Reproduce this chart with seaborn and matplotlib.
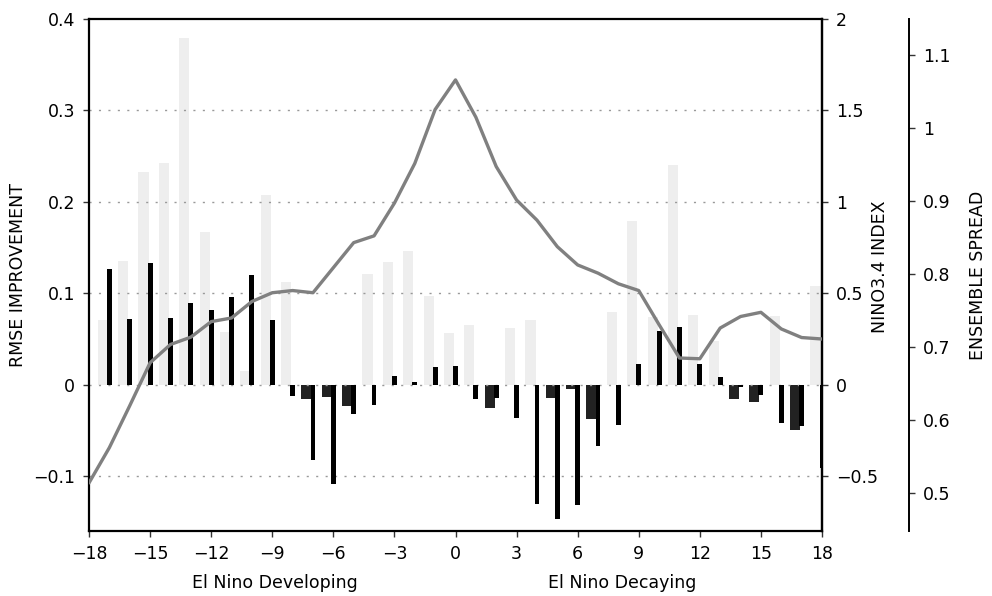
import numpy as np
import pandas as pd
import matplotlib
matplotlib.use("Agg")
import matplotlib.pyplot as plt
import seaborn as sns

# ---------------- data ----------------
lags = list(range(-17, 19))
rmse_gray = [0.071, 0.135, 0.233, 0.242, 0.379, 0.167, 0.058, 0.015, 0.207, 0.112,
             -0.016, -0.013, -0.023, 0.121, 0.134, 0.146, 0.097, 0.057, 0.065, -0.026,
             0.062, 0.071, -0.015, -0.005, -0.038, 0.080, 0.179, 0.074, 0.240, 0.076,
             0.048, -0.016, -0.019, 0.075, -0.050, 0.108]
rmse_black = [0.127, 0.072, 0.133, 0.073, 0.089, 0.082, 0.096, 0.120, 0.071, -0.012,
              -0.082, -0.109, -0.032, -0.022, 0.010, 0.003, 0.019, 0.021, -0.016, -0.014,
              -0.036, -0.130, -0.147, -0.132, -0.067, -0.044, 0.023, 0.059, 0.063, 0.023,
              0.008, -0.002, -0.011, -0.042, -0.045, -0.091]
nino_lags = list(range(-18, 19))
nino34 = [-0.537, -0.344, -0.115, 0.120, 0.220, 0.260, 0.345, 0.365, 0.455, 0.503,
          0.515, 0.503, 0.640, 0.777, 0.814, 0.993, 1.210, 1.505, 1.667, 1.463,
          1.193, 1.010, 0.900, 0.755, 0.655, 0.610, 0.552, 0.515, 0.328, 0.146,
          0.142, 0.310, 0.373, 0.396, 0.305, 0.258, 0.250]

xticks = list(range(-18, 19, 3))
xtick_labels = [str(v).replace("-", "\u2212") for v in xticks]
left_ticks = [-0.1, 0.0, 0.1, 0.2, 0.3, 0.4]
left_labels = ["\u22120.1", "0", "0.1", "0.2", "0.3", "0.4"]
nino_ticks = [-0.5, 0, 0.5, 1, 1.5, 2]
nino_labels = ["\u22120.5", "0", "0.5", "1", "1.5", "2"]
spread_ticks = [0.5, 0.6, 0.7, 0.8, 0.9, 1.0, 1.1]
spread_labels = ["0.5", "0.6", "0.7", "0.8", "0.9", "1", "1.1"]
grid_levels = [-0.1, 0.0, 0.1, 0.2, 0.3]

# ---------------- style ----------------
sns.set_theme(style="white")
plt.rcParams["font.family"] = ["DejaVu Sans"]
plt.rcParams["text.color"] = "black"
plt.rcParams["axes.labelcolor"] = "black"
plt.rcParams["xtick.color"] = "black"
plt.rcParams["ytick.color"] = "black"
FS = 12.5

fig = plt.figure(figsize=(9.92, 5.96), dpi=100)
ax = fig.add_axes([89 / 992, 65 / 596, 733 / 992, 512 / 596])

# gray bars (light for positive, dark for negative), offset left of each lag
gray_pos = np.array(lags) - 0.32
df_gray = pd.DataFrame({
    "pos": gray_pos,
    "val": rmse_gray,
    "sign": np.where(np.array(rmse_gray) >= 0, "pos", "neg"),
})
sns.barplot(data=df_gray, x="pos", y="val", hue="sign",
            palette={"pos": "#eeeeee", "neg": "#222222"},
            native_scale=True, width=0.5, dodge=False, errorbar=None,
            legend=False, saturation=1, linewidth=0, ax=ax, zorder=1)

# dotted grid
for g in grid_levels:
    ax.axhline(g, color="#999999", lw=1.0, dashes=(1.5, 5.3), zorder=2)

# black bars at each lag
df_black = pd.DataFrame({"lag": lags, "val": rmse_black})
sns.barplot(data=df_black, x="lag", y="val", color="black",
            native_scale=True, width=0.24, errorbar=None,
            saturation=1, linewidth=0, ax=ax, zorder=3)

ax.set_xlim(-18, 18)
ax.set_ylim(-0.16, 0.4)
ax.set_xticks(xticks, xtick_labels)
ax.set_yticks(left_ticks, left_labels)
ax.set_xlabel("")
ax.set_ylabel("RMSE IMPROVEMENT", fontsize=FS, color="black")
ax.yaxis.set_label_coords(-0.0969, 0.5)
ax.yaxis.label.set_va("center")
ax.tick_params(axis="both", which="major", direction="out", length=4, width=1,
               pad=6, labelsize=FS, color="#333333", labelcolor="black",
               bottom=True, left=True)
for s in ax.spines.values():
    s.set_linewidth(1.6)
    s.set_color("black")

# NINO3.4 axis
ax2 = ax.twinx()
df_nino = pd.DataFrame({"lag": nino_lags, "nino": nino34})
sns.lineplot(data=df_nino, x="lag", y="nino", color="#808080", lw=2.4, ax=ax2,
             zorder=5)
ax2.set_xlim(-18, 18)
ax2.set_ylim(-0.8, 2.0)
ax2.set_yticks(nino_ticks, nino_labels)
ax2.set_xlabel("")
ax2.set_ylabel("NINO3.4 INDEX", fontsize=FS, color="black")
ax2.yaxis.set_label_coords(1.0791, 0.516)
ax2.yaxis.label.set_va("center")
ax2.yaxis.label.set_ha("center")
ax2.tick_params(axis="y", direction="out", length=4, width=1, pad=6,
                labelsize=FS, color="#333333", labelcolor="black", right=True)
for k, s in ax2.spines.items():
    s.set_visible(k == "right")
    s.set_linewidth(1.6)
    s.set_color("black")

# Ensemble spread axis
ax3 = ax.twinx()
ax3.spines["right"].set_position(("axes", 1.1187))
for k, s in ax3.spines.items():
    s.set_visible(k == "right")
    s.set_linewidth(1.4)
    s.set_color("black")
ax3.patch.set_visible(False)
ax3.set_ylim(0.448, 1.149)
ax3.set_yticks(spread_ticks, spread_labels)
ax3.set_ylabel("ENSEMBLE SPREAD", fontsize=FS, color="black")
ax3.yaxis.set_label_coords(1.2128, 0.5)
ax3.yaxis.label.set_va("center")
ax3.yaxis.label.set_ha("center")
ax3.tick_params(axis="y", direction="out", length=4, width=1, pad=6,
                labelsize=FS, color="#333333", labelcolor="black", right=True)

# phase annotations
tr = ax.get_xaxis_transform()
ax.text(-8.85, -0.1016, "El Nino Developing", transform=tr, ha="center",
        va="center", fontsize=FS, color="black")
ax.text(8.2, -0.1016, "El Nino Decaying", transform=tr, ha="center",
        va="center", fontsize=FS, color="black")

fig.savefig("out.png", dpi=100)
